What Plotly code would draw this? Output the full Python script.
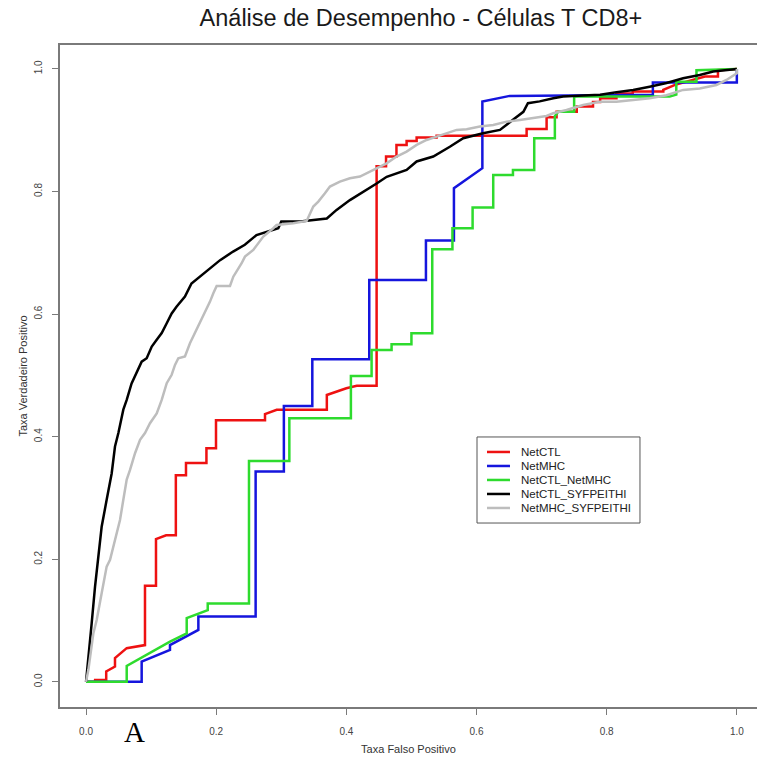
import plotly.graph_objects as go

# ROC curves (false positive rate, true positive rate)
netctl_x = [0, 0.014, 0.014, 0.031, 0.031, 0.0445, 0.0445, 0.0625, 0.0906,
            0.0906, 0.1075, 0.1075, 0.123, 0.138, 0.138, 0.1536, 0.1536,
            0.185, 0.185, 0.1997, 0.1997, 0.275, 0.275, 0.293, 0.370, 0.370,
            0.40, 0.416, 0.4465, 0.4465, 0.461, 0.461, 0.477, 0.477, 0.4926,
            0.4926, 0.508, 0.508, 0.5387, 0.5387, 0.677, 0.677, 0.7077,
            0.7077, 0.723, 0.723, 0.754, 0.754, 0.779, 0.779, 0.79, 0.79,
            0.815, 0.815, 0.84, 0.84, 0.887, 0.887, 0.905, 0.951, 0.971,
            0.971, 1.0]
netctl_y = [0, 0, 0.003, 0.003, 0.017, 0.025, 0.039, 0.055, 0.060, 0.157,
            0.157, 0.233, 0.239, 0.239, 0.337, 0.337, 0.357, 0.357, 0.381,
            0.381, 0.427, 0.427, 0.437, 0.444, 0.444, 0.468, 0.479, 0.483,
            0.483, 0.841, 0.841, 0.857, 0.857, 0.876, 0.876, 0.8825, 0.8825,
            0.888, 0.888, 0.891, 0.891, 0.902, 0.902, 0.921, 0.921, 0.930,
            0.930, 0.9385, 0.9385, 0.946, 0.946, 0.952, 0.952, 0.960, 0.960,
            0.963, 0.963, 0.966, 0.974, 0.9875, 0.9875, 0.998, 1.0]

netmhc_x = [0, 0.0855, 0.0855, 0.129, 0.129, 0.1726, 0.1726, 0.2606, 0.2606,
            0.304, 0.304, 0.3477, 0.3477, 0.4352, 0.4352, 0.5223, 0.5223,
            0.5653, 0.5653, 0.609, 0.609, 0.651, 0.871, 0.871, 1.0, 1.0]
netmhc_y = [0, 0, 0.033, 0.052, 0.060, 0.0848, 0.1066, 0.1066, 0.343, 0.343,
            0.450, 0.450, 0.5264, 0.5264, 0.6558, 0.6558, 0.72, 0.72, 0.8053,
            0.838, 0.9467, 0.956, 0.958, 0.978, 0.978, 1.0]

netctl_netmhc_x = [0, 0.0625, 0.0625, 0.129, 0.1547, 0.1547, 0.187, 0.187,
                   0.2504, 0.2504, 0.3124, 0.3124, 0.407, 0.407, 0.4388,
                   0.4388, 0.4695, 0.4695, 0.500, 0.500, 0.532, 0.532, 0.563,
                   0.563, 0.594, 0.594, 0.6257, 0.6257, 0.656, 0.656, 0.6887,
                   0.6887, 0.7204, 0.7204, 0.7256, 0.750, 0.750, 0.897, 0.907,
                   0.907, 0.938, 0.938, 1.0]
netctl_netmhc_y = [0, 0, 0.026, 0.0658, 0.079, 0.104, 0.117, 0.128, 0.128,
                   0.3605, 0.3605, 0.430, 0.430, 0.499, 0.499, 0.5416, 0.5416,
                   0.551, 0.551, 0.5688, 0.5688, 0.7058, 0.7058, 0.740, 0.740,
                   0.774, 0.774, 0.827, 0.827, 0.835, 0.835, 0.887, 0.887,
                   0.923, 0.930, 0.930, 0.955, 0.955, 0.958, 0.979, 0.979,
                   0.998, 1.0]

netctl_syf_x = [0, 0.0036, 0.0087, 0.0138, 0.019, 0.024, 0.0317, 0.0394,
                0.0445, 0.0497, 0.0573, 0.0625, 0.070, 0.0778, 0.0855, 0.0932,
                0.101, 0.1086, 0.1163, 0.124, 0.1316, 0.139, 0.152, 0.162,
                0.175, 0.1905, 0.206, 0.226, 0.244, 0.262, 0.2776, 0.2954,
                0.300, 0.329, 0.370, 0.385, 0.4055, 0.431, 0.4465, 0.462,
                0.4926, 0.508, 0.5335, 0.559, 0.5796, 0.610, 0.636, 0.656,
                0.672, 0.679, 0.697, 0.718, 0.733, 0.764, 0.79, 0.815, 0.8407,
                0.866, 0.892, 0.9175, 0.943, 0.9636, 1.0]
netctl_syf_y = [0, 0.036, 0.0957, 0.155, 0.204, 0.253, 0.297, 0.340, 0.384,
                0.406, 0.444, 0.460, 0.487, 0.5035, 0.5225, 0.528, 0.547,
                0.558, 0.569, 0.585, 0.601, 0.612, 0.6286, 0.650, 0.661,
                0.675, 0.688, 0.702, 0.713, 0.729, 0.7346, 0.740, 0.751,
                0.751, 0.756, 0.770, 0.786, 0.8025, 0.813, 0.824, 0.8352,
                0.849, 0.857, 0.873, 0.887, 0.895, 0.9005, 0.917, 0.930,
                0.944, 0.947, 0.952, 0.955, 0.9565, 0.958, 0.962, 0.9657,
                0.971, 0.977, 0.9848, 0.990, 0.9957, 1.0]

netmhc_syf_x = [0, 0.0036, 0.0113, 0.0164, 0.024, 0.0317, 0.0369, 0.0445,
                0.0522, 0.0573, 0.0625, 0.0676, 0.0753, 0.083, 0.0906, 0.0983,
                0.1086, 0.1163, 0.124, 0.1316, 0.1367, 0.1418, 0.152, 0.1597,
                0.1674, 0.175, 0.1828, 0.1905, 0.1956, 0.2007, 0.2212, 0.2263,
                0.2391, 0.2442, 0.257, 0.2647, 0.2724, 0.2877, 0.2928, 0.3185,
                0.339, 0.3492, 0.3569, 0.3671, 0.3748, 0.3901, 0.4055, 0.4209,
                0.431, 0.4465, 0.4618, 0.4772, 0.4926, 0.508, 0.5233, 0.5387,
                0.554, 0.5694, 0.5848, 0.6052, 0.6257, 0.6462, 0.6667, 0.6871,
                0.7076, 0.7178, 0.7383, 0.7639, 0.7895, 0.815, 0.8408, 0.8663,
                0.8919, 0.9175, 0.943, 0.9687, 0.984, 1.0, 1.0]
netmhc_syf_y = [0, 0.0196, 0.0794, 0.101, 0.1447, 0.188, 0.199, 0.2317,
                0.264, 0.297, 0.330, 0.3458, 0.373, 0.395, 0.406, 0.4219,
                0.438, 0.460, 0.4872, 0.501, 0.517, 0.528, 0.531, 0.5525,
                0.5688, 0.585, 0.6014, 0.6204, 0.634, 0.646, 0.646, 0.661,
                0.683, 0.6938, 0.7047, 0.7156, 0.7265, 0.7401, 0.7455, 0.7482,
                0.752, 0.7754, 0.7836, 0.797, 0.808, 0.8162, 0.8216, 0.8243,
                0.8298, 0.838, 0.846, 0.857, 0.8651, 0.876, 0.8841, 0.8896,
                0.895, 0.9005, 0.9016, 0.906, 0.9086, 0.914, 0.9168, 0.9195,
                0.9233, 0.9276, 0.933, 0.9412, 0.9466, 0.9466, 0.949, 0.952,
                0.957, 0.9657, 0.968, 0.9738, 0.982, 0.993, 1.0]

names = ['NetCTL', 'NetMHC', 'NetCTL_NetMHC', 'NetCTL_SYFPEITHI',
         'NetMHC_SYFPEITHI']
colors = ['#ee1111', '#1515dd', '#2edb2e', '#000000', '#bdbdbd']
curves = [(netctl_x, netctl_y), (netmhc_x, netmhc_y),
          (netctl_netmhc_x, netctl_netmhc_y), (netctl_syf_x, netctl_syf_y),
          (netmhc_syf_x, netmhc_syf_y)]

ticks = [0.0, 0.2, 0.4, 0.6, 0.8, 1.0]
font = 'Liberation Sans, Arial, sans-serif'

fig = go.Figure()
for name, (xs, ys), color in zip(names, curves, colors):
    assert len(xs) == len(ys), name
    fig.add_trace(go.Scatter(x=xs, y=ys, mode='lines', name=name,
                             line=dict(color=color, width=2.5)))

axis_common = dict(
    showgrid=False, zeroline=False, showline=True, linecolor='#7a7a7a',
    linewidth=1.5, ticks='outside', ticklen=6, tickcolor='#7a7a7a',
    tickvals=ticks, tickformat='.1f', automargin=False,
    tickfont=dict(family=font, size=10, color='#444444'),
)

fig.update_layout(
    width=757, height=758,
    margin=dict(l=60, r=0, t=45, b=51),
    paper_bgcolor='white', plot_bgcolor='white',
    font=dict(family=font, color='#222222'),
    title=dict(text='Análise de Desempenho - Células T CD8+',
               font=dict(family=font, size=23.5, color='#1a1a1a'),
               xref='container', x=0.556, xanchor='center',
               yref='container', y=0.976, yanchor='middle'),
    xaxis=dict(range=[-0.04, 1.031], mirror=True, ticklabelstandoff=8,
               title=dict(text='Taxa Falso Positivo', standoff=10,
                          font=dict(family=font, size=11, color='#333333')),
               **axis_common),
    yaxis=dict(range=[-0.041, 1.039], tickangle=-90, ticklabelstandoff=6,
               title=dict(text='Taxa Verdadeiro Positivo', standoff=3,
                          font=dict(family=font, size=11, color='#333333')),
               **axis_common),
    showlegend=False,
)

# Boxed legend in the lower right, drawn like R's legend()
lx0, lx1, ly_top, ly_bot = 0.5983, 0.8321, 0.4079, 0.2779
fig.add_shape(type='rect', xref='paper', yref='paper', x0=lx0, x1=lx1,
              y0=ly_bot, y1=ly_top, line=dict(color='#555555', width=1),
              fillcolor='white', layer='above')
for i, (name, color) in enumerate(zip(names, colors)):
    yy = ly_top - (15 + 14 * i) / 662
    fig.add_shape(type='line', xref='paper', yref='paper', x0=0.6126,
                  x1=0.6456, y0=yy, y1=yy, line=dict(color=color, width=2.5),
                  layer='above')
    fig.add_annotation(text=name, xref='paper', yref='paper', x=0.6585,
                       y=yy, xanchor='left', yanchor='middle',
                       showarrow=False,
                       font=dict(family=font, size=11.5, color='#222222'))

fig.add_annotation(text='A', xref='paper', yref='paper', x=0.1076, y=-0.038,
                   xanchor='center', yanchor='middle', showarrow=False,
                   font=dict(family='Liberation Serif, Times New Roman, serif',
                             size=29, color='black'))

# drop the browser's default 8px body margin so the figure sits at (0, 0)
fig.write_html('out.html', config={'displayModeBar': False},
               post_script="document.body.style.margin='0';")
